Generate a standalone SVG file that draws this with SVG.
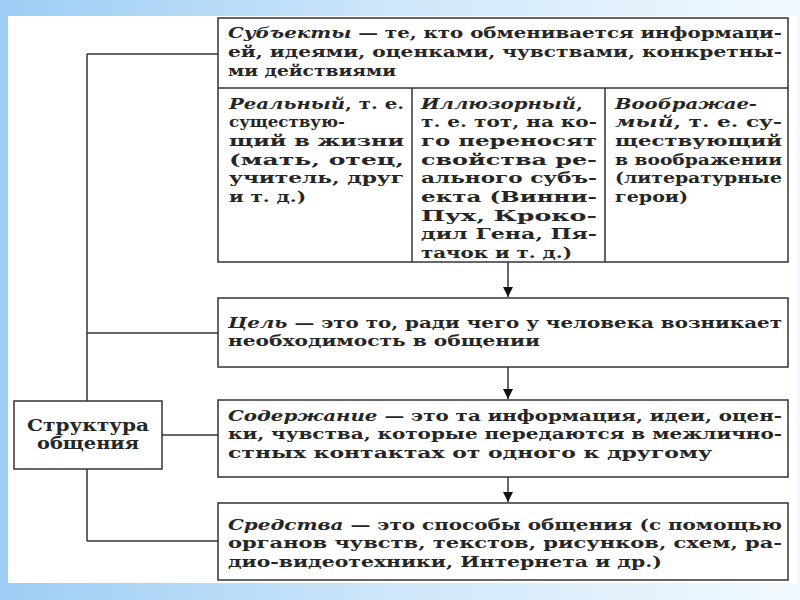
<svg xmlns="http://www.w3.org/2000/svg" width="800" height="600" viewBox="0 0 800 600">
<defs>
<linearGradient id="bg" x1="0" y1="0" x2="1" y2="0">
<stop offset="0" stop-color="#9ccdf4"/>
<stop offset="0.5" stop-color="#cfe7fa"/>
<stop offset="1" stop-color="#f2f9fe"/>
</linearGradient>
<marker id="arr" viewBox="0 0 10 10" refX="10" refY="5" markerWidth="10" markerHeight="10" markerUnits="userSpaceOnUse" orient="auto">
<path d="M0,0 L10,5 L0,10 Z" fill="#111"/>
</marker>
<style>
.box{fill:#fff;stroke:#333;stroke-width:1.5}
.ln{fill:none;stroke:#333;stroke-width:1.5}
.t{font-family:"DejaVu Serif","Liberation Serif",serif;font-weight:bold;font-size:14.5px;fill:#262626}
.i{font-style:italic}
.c{text-anchor:middle}
.big{font-size:16.5px}
</style>
</defs>
<rect x="0" y="0" width="800" height="600" fill="url(#bg)"/>
<rect x="8" y="16" width="789" height="567" fill="#fff"/>

<g id="connectors">
<line class="ln" x1="87" y1="54" x2="87" y2="401"/>
<line class="ln" x1="87" y1="469" x2="87" y2="541"/>
<line class="ln" x1="87" y1="54" x2="218" y2="54"/>
<line class="ln" x1="87" y1="333" x2="218" y2="333"/>
<line class="ln" x1="162" y1="435" x2="218" y2="435"/>
<line class="ln" x1="87" y1="541" x2="218" y2="541"/>
<line class="ln" x1="508" y1="262" x2="508" y2="297" marker-end="url(#arr)"/>
<line class="ln" x1="508" y1="367" x2="508" y2="399" marker-end="url(#arr)"/>
<line class="ln" x1="508" y1="477" x2="508" y2="502" marker-end="url(#arr)"/>
</g>

<g id="subjects">
<rect class="box" x="218" y="18" width="570" height="244"/>
<line class="ln" x1="218" y1="88" x2="788" y2="88"/>
<line class="ln" x1="412" y1="88" x2="412" y2="262"/>
<line class="ln" x1="605" y1="88" x2="605" y2="262"/>
<text class="t" x="228" y="38" textLength="554" lengthAdjust="spacingAndGlyphs"><tspan class="i">Субъекты</tspan> — те, кто обменивается информаци-</text>
<text class="t" x="228" y="57" textLength="554" lengthAdjust="spacingAndGlyphs">ей, идеями, оценками, чувствами, конкретны-</text>
<text class="t" x="228" y="76" textLength="168" lengthAdjust="spacingAndGlyphs">ми действиями</text>
</g>

<g id="real">
<text class="t" x="229" y="109" textLength="175" lengthAdjust="spacingAndGlyphs"><tspan class="i">Реальный</tspan>, т. е.</text>
<text class="t" x="229" y="127" textLength="116" lengthAdjust="spacingAndGlyphs">существую-</text>
<text class="t" x="229" y="146" textLength="175" lengthAdjust="spacingAndGlyphs">щий в жизни</text>
<text class="t" x="229" y="165" textLength="175" lengthAdjust="spacingAndGlyphs">(мать, отец,</text>
<text class="t" x="229" y="183" textLength="175" lengthAdjust="spacingAndGlyphs">учитель, друг</text>
<text class="t" x="229" y="202" textLength="77" lengthAdjust="spacingAndGlyphs">и т. д.)</text>
</g>

<g id="illusory">
<text class="t" x="421" y="109" textLength="162" lengthAdjust="spacingAndGlyphs"><tspan class="i">Иллюзорный</tspan>,</text>
<text class="t" x="421" y="127" textLength="176" lengthAdjust="spacingAndGlyphs">т. е. тот, на ко-</text>
<text class="t" x="421" y="146" textLength="176" lengthAdjust="spacingAndGlyphs">го переносят</text>
<text class="t" x="421" y="165" textLength="176" lengthAdjust="spacingAndGlyphs">свойства ре-</text>
<text class="t" x="421" y="183" textLength="176" lengthAdjust="spacingAndGlyphs">ального субъ-</text>
<text class="t" x="421" y="202" textLength="176" lengthAdjust="spacingAndGlyphs">екта (Винни-</text>
<text class="t" x="421" y="221" textLength="176" lengthAdjust="spacingAndGlyphs">Пух, Кроко-</text>
<text class="t" x="421" y="239" textLength="176" lengthAdjust="spacingAndGlyphs">дил Гена, Пя-</text>
<text class="t" x="421" y="258" textLength="151" lengthAdjust="spacingAndGlyphs">тачок и т. д.)</text>
</g>

<g id="imaginary">
<text class="t" x="615" y="109" textLength="142" lengthAdjust="spacingAndGlyphs"><tspan class="i">Воображае-</tspan></text>
<text class="t" x="615" y="127" textLength="167" lengthAdjust="spacingAndGlyphs"><tspan class="i">мый</tspan>, т. е. су-</text>
<text class="t" x="615" y="146" textLength="167" lengthAdjust="spacingAndGlyphs">ществующий</text>
<text class="t" x="615" y="165" textLength="167" lengthAdjust="spacingAndGlyphs">в воображении</text>
<text class="t" x="615" y="183" textLength="167" lengthAdjust="spacingAndGlyphs">(литературные</text>
<text class="t" x="615" y="202" textLength="73" lengthAdjust="spacingAndGlyphs">герои)</text>
</g>

<g id="goal">
<rect class="box" x="218" y="298" width="570" height="69"/>
<text class="t" x="228" y="328" textLength="554" lengthAdjust="spacingAndGlyphs"><tspan class="i">Цель</tspan> — это то, ради чего у человека возникает</text>
<text class="t" x="228" y="346" textLength="312" lengthAdjust="spacingAndGlyphs">необходимость в общении</text>
</g>

<g id="content">
<rect class="box" x="218" y="400" width="570" height="77"/>
<text class="t" x="228" y="421" textLength="554" lengthAdjust="spacingAndGlyphs"><tspan class="i">Содержание</tspan> — это та информация, идеи, оцен-</text>
<text class="t" x="228" y="439" textLength="554" lengthAdjust="spacingAndGlyphs">ки, чувства, которые передаются в межлично-</text>
<text class="t" x="228" y="458" textLength="484" lengthAdjust="spacingAndGlyphs">стных контактах от одного к другому</text>
</g>

<g id="means">
<rect class="box" x="218" y="503" width="570" height="77"/>
<text class="t" x="228" y="530" textLength="554" lengthAdjust="spacingAndGlyphs"><tspan class="i">Средства</tspan> — это способы общения (с помощью</text>
<text class="t" x="228" y="548" textLength="554" lengthAdjust="spacingAndGlyphs">органов чувств, текстов, рисунков, схем, ра-</text>
<text class="t" x="228" y="567" textLength="434" lengthAdjust="spacingAndGlyphs">дио-видеотехники, Интернета и др.)</text>
</g>

<g id="structure">
<rect class="box" x="14" y="401" width="148" height="68"/>
<text class="t c big" x="88" y="431" textLength="122" lengthAdjust="spacingAndGlyphs">Структура</text>
<text class="t c big" x="88" y="449" textLength="102" lengthAdjust="spacingAndGlyphs">общения</text>
</g>
</svg>
